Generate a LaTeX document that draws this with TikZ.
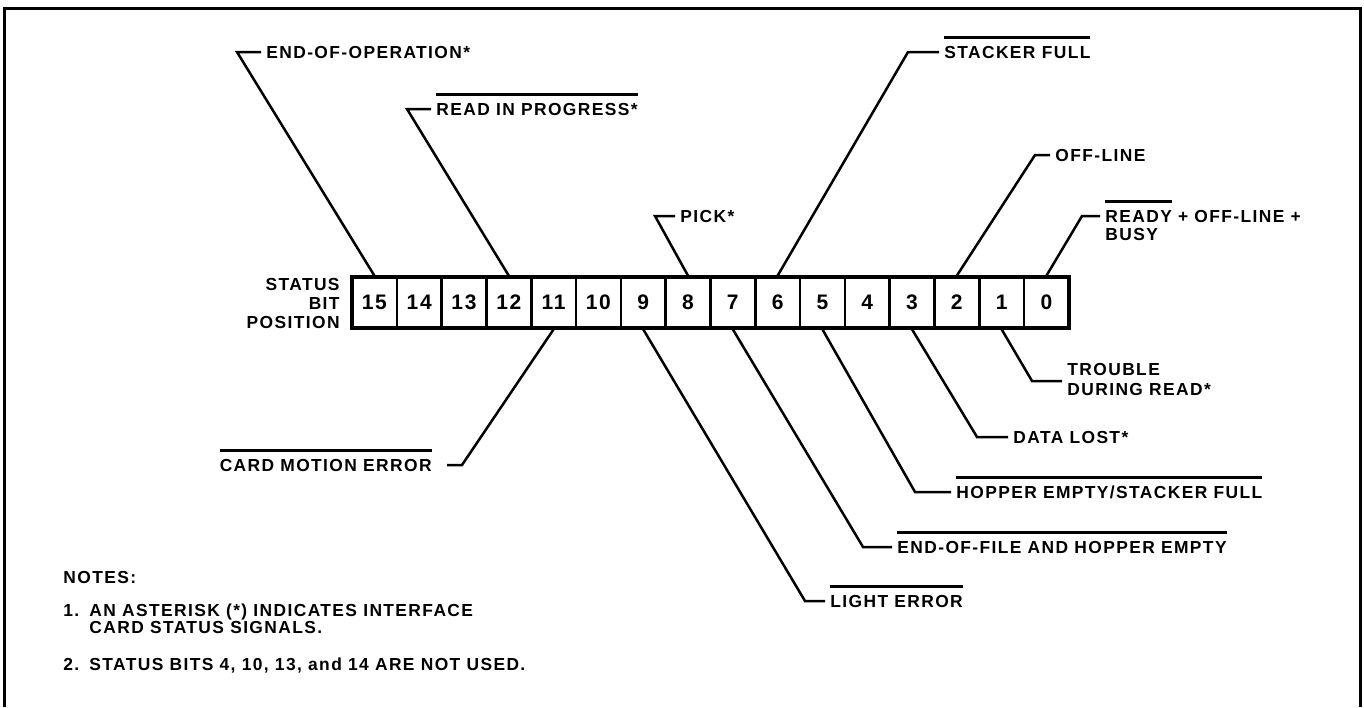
\documentclass[tikz,border=0pt]{standalone}
\usepackage{fontspec}
\setmainfont{Liberation Sans}[LetterSpace=8]
\newcommand\ovltext[1]{\setbox0\hbox{#1}\rlap{\rule[9.85pt]{\wd0}{1.5pt}}\box0\relax}
\begin{document}
\begin{tikzpicture}[x=0.5pt,y=-0.5pt,
  every node/.style={font=\fontsize{8.7}{10}\selectfont\bfseries},
  lbl/.style={anchor=west,inner xsep=2.5pt,inner ysep=0pt,text height=6.2pt,text depth=0pt},
  txt/.style={anchor=west,inner sep=0pt,text height=6.2pt,text depth=0pt},
  cell/.style={draw,line width=1.3pt,minimum width=22.4pt,minimum height=25.5pt,inner sep=0pt,
    font=\fontsize{10.5}{12}\selectfont\bfseries},
  lead/.style={line width=1.25pt}]
\useasboundingbox (0,0) rectangle (1364,707);
% frame
\draw[line width=1.5pt] (4,707) -- (4,8) -- (1360,8) -- (1360,707);
% register
\node[draw,line width=1.8pt,minimum width=358.5pt,minimum height=25.5pt,inner sep=0pt] (reg) at (710.5,302.5) {};
\foreach \b [count=\i from 0] in {15,14,13,12,11,10,9,8,7,6,5,4,3,2,1,0}
  \node[cell] (c\b) at ({352+44.8*(\i+0.5)},302.5) {\b};
% left caption
\node[txt,anchor=east] (sA) at (340,284) {STATUS};
\node[txt,anchor=east] (sB) at (340,303) {BIT};
\node[txt,anchor=east] (sC) at (340,322) {POSITION};
% top labels
\node[lbl] (l15) at (261,52) {END-OF-OPERATION*};
\node[lbl] (l12) at (431,109) {\ovltext{READ IN PROGRESS*}};
\node[lbl] (l8) at (675,216) {PICK*};
\node[lbl] (l6) at (939,52) {\ovltext{STACKER FULL}};
\node[lbl] (l2) at (1050,155) {OFF-LINE};
\node[lbl] (l0) at (1100,216) {\ovltext{READY} + OFF-LINE +};
\node[lbl] (l0b) at (1100,234) {BUSY};
% bottom labels
\node[lbl,anchor=east,inner xsep=7.5pt] (l11) at (447,465) {\ovltext{CARD MOTION ERROR}};
\node[lbl] (l9) at (825,601) {\ovltext{LIGHT ERROR}};
\node[lbl] (l7) at (892,547) {\ovltext{END-OF-FILE AND HOPPER EMPTY}};
\node[lbl] (l5) at (951,492) {\ovltext{HOPPER EMPTY/STACKER FULL}};
\node[lbl] (l3) at (1008,437) {DATA LOST*};
\node[lbl] (l1) at (1062,369) {TROUBLE};
\node[lbl] (l1b) at (1062,389) {DURING READ*};
% corners
\coordinate (k15) at (237,52);
\coordinate (k12) at (407,109);
\coordinate (k8) at (655,216);
\coordinate (k6) at (908,52);
\coordinate (k2) at (1035,155);
\coordinate (k0) at (1082,216);
\coordinate (k11) at (462,465);
\coordinate (k9) at (805,601);
\coordinate (k7) at (863,547);
\coordinate (k5) at (915,492);
\coordinate (k3) at (977,437);
\coordinate (k1) at (1032,381);
% leaders
\foreach \n in {15,12,8,6,2,0}
  \draw[lead] (c\n.north) -- (k\n) -- (l\n.west);
\draw[lead] (c11.south) -- (k11) -- (l11.east);
\foreach \n in {9,7,5,3}
  \draw[lead] (c\n.south) -- (k\n) -- (l\n.west);
\draw[lead] (c1.south) -- (k1) -- (l1.west |- k1);
% notes
\node[txt] (n0) at (63,577) {NOTES:};
\node[txt] (n1) at (63,610) {\makebox[13pt][l]{1.}AN ASTERISK (*) INDICATES INTERFACE};
\node[txt] (n1b) at (89,627) {CARD STATUS SIGNALS.};
\node[txt] (n2) at (63,664) {\makebox[13pt][l]{2.}STATUS BITS 4, 10, 13, and 14 ARE NOT USED.};
\end{tikzpicture}
\end{document}
